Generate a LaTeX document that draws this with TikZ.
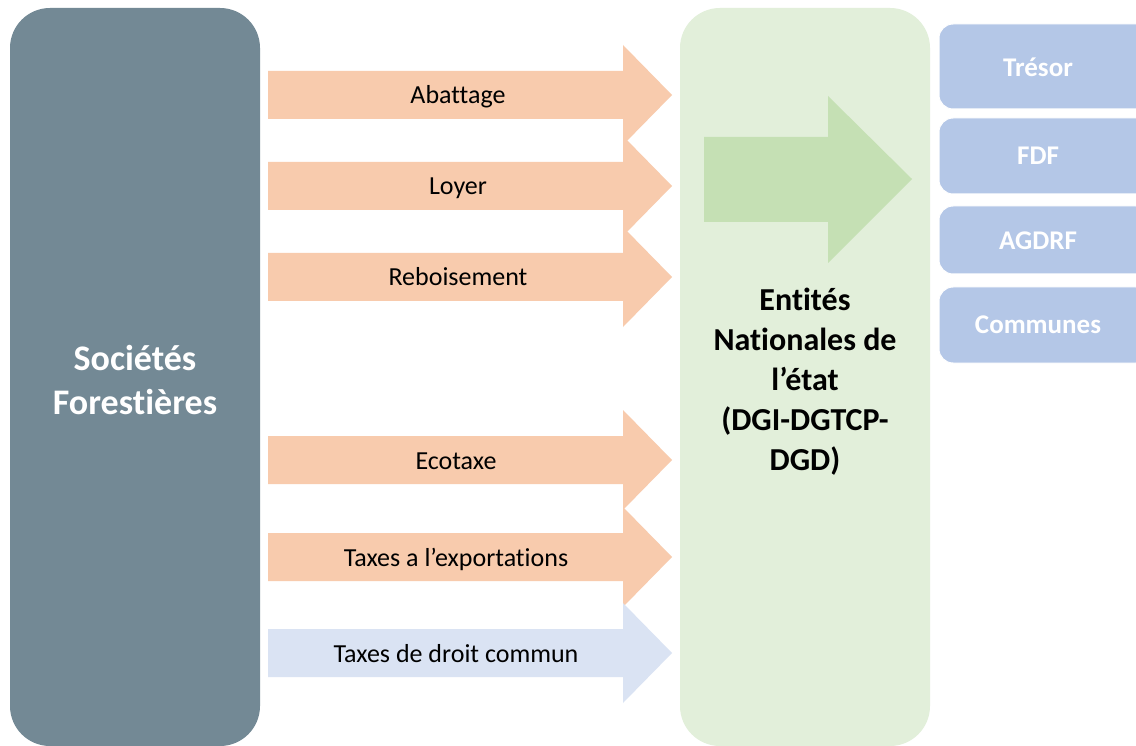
\documentclass[tikz,border=0pt]{standalone}
\usepackage{fontspec}
\setmainfont{Carlito}[Ligatures=NoCommon]
\usepackage{tikz}
\usetikzlibrary{positioning}

\definecolor{ardoise}{RGB}{115,137,149}
\definecolor{taxe}{RGB}{248,203,173}
\definecolor{droit}{RGB}{218,227,243}
\definecolor{etat}{RGB}{226,239,218}
\definecolor{vert}{RGB}{197,224,180}
\definecolor{fonds}{RGB}{180,199,231}

\begin{document}
\begin{tikzpicture}[x=1pt, y=-1pt,
  bloc/.style = {rounded corners=40, inner sep=0pt},
  fonds/.style = {fill=fonds, draw=white, line width=1pt, rounded corners=14},
  etiquette/.style = {font=\fontsize{26}{30}\selectfont, text=black, inner sep=0pt, anchor=base},
  nomfonds/.style = {font=\bfseries\fontsize{27}{30}\selectfont, text=white, inner sep=0pt},
  fleche/.pic = {\fill[#1] (0,-24) -- (355,-24) -- (355,-50) -- (404,0) -- (355,50) -- (355,24) -- (0,24) -- cycle;}]

\useasboundingbox[fill=white] (0,0) rectangle (1136,746);

% blocs principaux
\fill[ardoise, bloc] (10,8) rectangle (260,746);
\fill[etat, bloc] (680,8) rectangle (930,746);
\node[font=\bfseries\fontsize{36}{44}\selectfont, text=white, align=center] (societes) at (135,380) {Sociétés\\Forestières};

% fleches des taxes
\pic at (268,95) {fleche=taxe};
\pic at (268,186) {fleche=taxe};
\pic at (268,277) {fleche=taxe};
\pic at (268,460) {fleche=taxe};
\pic at (268,557) {fleche=taxe};
\pic at (268,653) {fleche=droit};

\node[etiquette] (abattage) at (458,104) {Abattage};
\node[etiquette] (loyer) at (458,195) {Loyer};
\node[etiquette] (reboisement) at (458,286) {Reboisement};
\node[etiquette] (ecotaxe) at (456,469) {Ecotaxe};
\node[etiquette] (exportations) at (456,566) {Taxes a l’exportations};
\node[etiquette] (commun) at (456,662) {Taxes de droit commun};

% repartition
\fill[vert] (704,137) -- (828,137) -- (828,96) -- (912,179) -- (828,263) -- (828,222) -- (704,222) -- cycle;
\node[font=\bfseries\fontsize{32}{40}\selectfont, text=black, align=center] (entites) at (805,382) {Entités\\Nationales de\\l’état\\(DGI-DGTCP-\\DGD)};

% beneficiaires
\draw[fonds] (939,24) rectangle (1150,109);
\draw[fonds] (939,118) rectangle (1150,194);
\draw[fonds] (939,206) rectangle (1150,274);
\draw[fonds] (939,287) rectangle (1150,363);
\node[nomfonds] (tresor) at (1038,67) {Trésor};
\node[nomfonds] (fdf) at (1038,156) {FDF};
\node[nomfonds] (agdrf) at (1038,241) {AGDRF};
\node[nomfonds] (communes) at (1038,325) {Communes};
\end{tikzpicture}
\end{document}
